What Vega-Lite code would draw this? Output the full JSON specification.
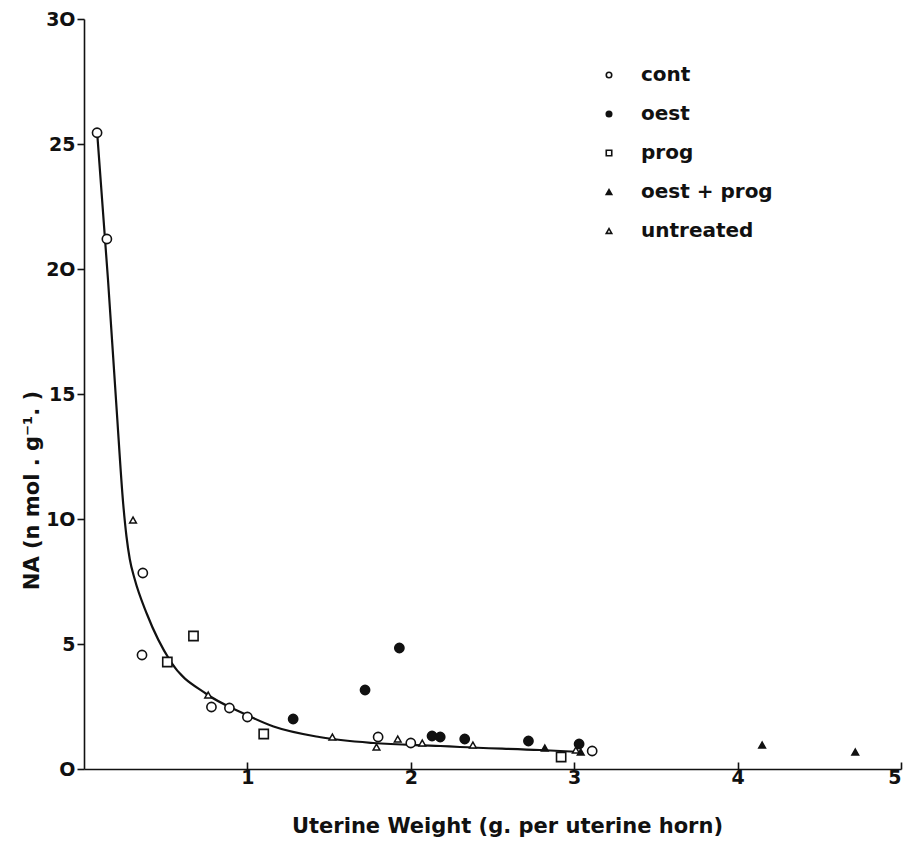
{
  "$schema": "https://vega.github.io/schema/vega-lite/v6.json",
  "autosize": "none",
  "width": 817,
  "height": 750,
  "padding": {"left": 84, "top": 19, "right": 15, "bottom": 78},
  "background": "white",
  "config": {
    "view": {"stroke": null},
    "font": "DejaVu Sans",
    "axis": {
      "domainColor": "#111",
      "domainWidth": 1.6,
      "tickColor": "#111",
      "tickWidth": 1.6,
      "grid": false,
      "labelFont": "DejaVu Sans",
      "labelFontWeight": "bold",
      "labelFontSize": 19,
      "labelColor": "#111",
      "titleFont": "DejaVu Sans",
      "titleFontWeight": "bold",
      "titleFontSize": 21,
      "titleColor": "#111"
    },
    "legend": {
      "labelFont": "DejaVu Sans",
      "labelFontWeight": "bold",
      "labelFontSize": 20,
      "labelColor": "#111",
      "symbolSize": 30,
      "symbolStrokeWidth": 1.6,
      "rowPadding": 19,
      "labelOffset": 22
    }
  },
  "datasets": {
    "curve": [
      {"w": 0.08, "na": 25.5},
      {"w": 0.147, "na": 19.56},
      {"w": 0.20, "na": 14.36},
      {"w": 0.24, "na": 10.6},
      {"w": 0.26, "na": 9.3},
      {"w": 0.28, "na": 8.4},
      {"w": 0.31, "na": 7.6},
      {"w": 0.385, "na": 6.2},
      {"w": 0.53, "na": 4.3},
      {"w": 0.75, "na": 3.0},
      {"w": 0.97, "na": 2.24},
      {"w": 1.16, "na": 1.7},
      {"w": 1.44, "na": 1.28},
      {"w": 1.77, "na": 1.04},
      {"w": 2.18, "na": 0.92},
      {"w": 2.30, "na": 0.88},
      {"w": 2.79, "na": 0.76},
      {"w": 3.04, "na": 0.68}
    ],
    "samples": [
      {"w": 0.08, "na": 25.45, "group": "cont"},
      {"w": 0.14, "na": 21.2, "group": "cont"},
      {"w": 0.36, "na": 7.84, "group": "cont"},
      {"w": 0.355, "na": 4.56, "group": "cont"},
      {"w": 0.78, "na": 2.48, "group": "cont"},
      {"w": 0.89, "na": 2.44, "group": "cont"},
      {"w": 1.0, "na": 2.08, "group": "cont"},
      {"w": 1.80, "na": 1.28, "group": "cont"},
      {"w": 2.0, "na": 1.04, "group": "cont"},
      {"w": 3.11, "na": 0.72, "group": "cont"},
      {"w": 1.28, "na": 2.0, "group": "oest"},
      {"w": 1.72, "na": 3.16, "group": "oest"},
      {"w": 1.93, "na": 4.84, "group": "oest"},
      {"w": 2.13, "na": 1.32, "group": "oest"},
      {"w": 2.18, "na": 1.28, "group": "oest"},
      {"w": 2.33, "na": 1.2, "group": "oest"},
      {"w": 2.72, "na": 1.12, "group": "oest"},
      {"w": 3.03, "na": 1.0, "group": "oest"},
      {"w": 0.67, "na": 5.32, "group": "prog"},
      {"w": 0.51, "na": 4.28, "group": "prog"},
      {"w": 1.10, "na": 1.4, "group": "prog"},
      {"w": 2.92, "na": 0.48, "group": "prog"},
      {"w": 2.82, "na": 0.84, "group": "oest + prog"},
      {"w": 3.04, "na": 0.68, "group": "oest + prog"},
      {"w": 4.15, "na": 0.96, "group": "oest + prog"},
      {"w": 4.72, "na": 0.68, "group": "oest + prog"},
      {"w": 0.30, "na": 9.96, "group": "untreated"},
      {"w": 0.76, "na": 2.96, "group": "untreated"},
      {"w": 1.52, "na": 1.28, "group": "untreated"},
      {"w": 1.79, "na": 0.88, "group": "untreated"},
      {"w": 1.92, "na": 1.2, "group": "untreated"},
      {"w": 2.07, "na": 1.04, "group": "untreated"},
      {"w": 2.38, "na": 0.96, "group": "untreated"},
      {"w": 3.01, "na": 0.76, "group": "untreated"}
    ]
  },
  "layer": [
    {
      "data": {"name": "curve"},
      "mark": {"type": "line", "interpolate": "monotone", "color": "#111", "strokeWidth": 2.2},
      "encoding": {
        "x": {
          "field": "w", "type": "quantitative",
          "scale": {"domain": [0, 5], "nice": false},
          "axis": {
            "values": [1, 2, 3, 4, 5],
            "format": "d",
            "tickSize": -7,
            "labelPadding": 6,
            "title": "Uterine Weight  (g. per uterine horn)",
            "titleX": 423,
            "titleY": 57,
            "titleBaseline": "middle",
            "titleAlign": "center"
          }
        },
        "y": {
          "field": "na", "type": "quantitative",
          "scale": {"domain": [0, 30], "nice": false},
          "axis": {
            "values": [0, 5, 10, 15, 20, 25, 30],
            "format": "d",
            "tickSize": 7,
            "labelPadding": 2,
            "labelExpr": "replace(datum.label, regexp('0', 'g'), 'O')",
            "title": "NA  (n mol . g⁻¹. )",
            "titleX": -52,
            "titleY": 471,
            "titleAngle": 270,
            "titleAlign": "center",
            "titleBaseline": "middle"
          }
        }
      }
    },
    {
      "data": {"name": "samples"},
      "transform": [{"filter": "datum.group == 'cont' || datum.group == 'oest' || datum.group == 'prog'"}],
      "mark": {"type": "point", "filled": true, "size": 85, "stroke": "#111", "strokeWidth": 1.6, "opacity": 1},
      "encoding": {
        "x": {"field": "w", "type": "quantitative"},
        "y": {"field": "na", "type": "quantitative"},
        "shape": {
          "field": "group", "type": "nominal",
          "scale": {
            "domain": ["cont", "oest", "prog", "oest + prog", "untreated"],
            "range": ["circle", "circle", "square", "triangle-up", "triangle-up"]
          },
          "legend": {"title": null, "orient": "none", "legendX": 515, "legendY": 46}
        },
        "fill": {
          "field": "group", "type": "nominal",
          "scale": {
            "domain": ["cont", "oest", "prog", "oest + prog", "untreated"],
            "range": ["white", "#111", "white", "#111", "white"]
          },
          "legend": {"title": null, "orient": "none", "legendX": 515, "legendY": 46}
        }
      }
    },
    {
      "data": {"name": "samples"},
      "transform": [{"filter": "datum.group == 'oest + prog' || datum.group == 'untreated'"}],
      "mark": {"type": "point", "filled": true, "size": 45, "stroke": "#111", "strokeWidth": 1.5, "opacity": 1},
      "encoding": {
        "x": {"field": "w", "type": "quantitative"},
        "y": {"field": "na", "type": "quantitative"},
        "shape": {"field": "group", "type": "nominal"},
        "fill": {"field": "group", "type": "nominal"}
      }
    }
  ]
}
